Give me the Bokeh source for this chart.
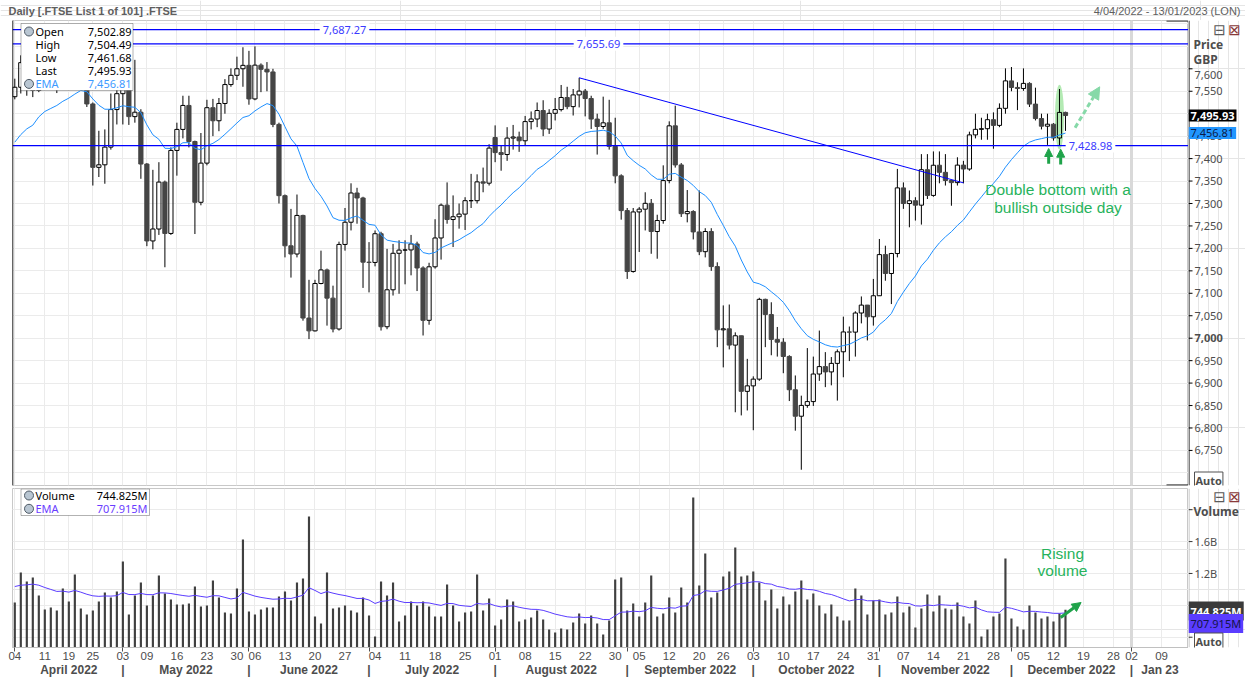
import pandas as pd
from bokeh.plotting import figure
from bokeh.layouts import column, row
from bokeh.models import (Range1d, FixedTicker, Span, Label, LinearAxis,
                          Arrow, NormalHead, ColumnDataSource, BoxAnnotation, Grid)
from bokeh.core.properties import value
from bokeh.embed import file_html
from bokeh.resources import INLINE

# ------------------------------------------------------------------ data
uk_holidays = ["2022-04-15", "2022-04-18", "2022-05-02", "2022-06-02", "2022-06-03",
               "2022-08-29", "2022-09-19", "2022-12-26", "2022-12-27"]
axis_start, axis_end = "2022-04-04", "2023-01-13"

opens = [7537.9, 7558.9, 7613.7, 7587.7, 7551.8, 7669.6, 7618.3, 7576.7, 7580.8, 7616.4,
         7601.3, 7629.2, 7627.9, 7521.7, 7380.5, 7386.2, 7425.6, 7509.2, 7544.6, 7561.3,
         7493.5, 7503.3, 7387.9, 7216.6, 7243.2, 7347.7, 7233.3, 7418.2, 7465.0, 7518.4,
         7438.1, 7302.7, 7389.9, 7513.4, 7484.3, 7522.8, 7564.9, 7585.5, 7600.1, 7607.7,
         7532.9, 7608.2, 7598.9, 7593.0, 7476.2, 7317.5, 7205.8, 7187.5, 7273.4, 7044.9,
         7016.3, 7121.8, 7152.1, 7089.2, 7020.5, 7208.8, 7258.3, 7323.4, 7312.3, 7169.3,
         7168.7, 7232.7, 7025.5, 7107.8, 7189.1, 7196.2, 7196.6, 7209.9, 7156.4, 7039.8,
         7159.0, 7223.2, 7296.3, 7264.3, 7270.5, 7276.4, 7306.3, 7306.3, 7348.2, 7345.3,
         7447.0, 7413.4, 7409.1, 7445.7, 7448.1, 7439.7, 7482.4, 7488.2, 7507.1, 7465.9,
         7500.9, 7509.2, 7536.1, 7515.8, 7541.9, 7550.4, 7533.8, 7488.1, 7471.5, 7479.7,
         7427.3, 7361.6, 7284.2, 7148.5, 7281.2, 7287.4, 7300.4, 7237.6, 7262.1, 7351.1,
         7473.0, 7385.9, 7277.3, 7282.1, 7236.7, 7192.7, 7237.6, 7159.5, 7018.6, 7020.9,
         6984.6, 7005.4, 6881.6, 6893.8, 6908.8, 7086.5, 7052.6, 6997.3, 6991.1, 6959.3,
         6885.2, 6826.2, 6850.3, 6858.8, 6920.2, 6936.7, 6924.9, 6943.9, 6969.7, 7013.9,
         7013.5, 7056.1, 7073.7, 7047.7, 7094.5, 7186.2, 7144.1, 7188.6, 7334.8, 7299.9,
         7306.1, 7296.3, 7375.3, 7318.0, 7385.2, 7369.4, 7351.2, 7346.5, 7385.5, 7376.8,
         7452.8, 7465.2, 7466.6, 7486.7, 7474.0, 7512.0, 7573.1, 7558.5, 7556.2, 7567.5,
         7521.4, 7489.2, 7472.2, 7476.6, 7445.9, 7502.89]

highs = [7578, 7630, 7618, 7600, 7676, 7672, 7625, 7600, 7630, 7640,
         7650, 7665, 7640, 7525, 7462, 7465, 7545, 7560, 7600, 7580,
         7620, 7510, 7390, 7375, 7392, 7351, 7425, 7480, 7540, 7540,
         7440, 7457, 7531, 7533, 7535, 7577, 7601, 7627, 7648, 7640,
         7650, 7612, 7615, 7600, 7480, 7320, 7288, 7320, 7275, 7130,
         7130, 7195, 7155, 7117, 7215, 7290, 7345, 7335, 7315, 7214,
         7240, 7237, 7199, 7210, 7218, 7218, 7230, 7215, 7160, 7168,
         7265, 7300, 7347, 7318, 7300, 7314, 7366, 7365, 7380, 7432,
         7474, 7430, 7470, 7475, 7460, 7495, 7505, 7525, 7530, 7510,
         7535, 7564, 7560, 7555, 7580, 7555, 7540, 7500, 7538, 7531,
         7491, 7365, 7290, 7290, 7292, 7325, 7310, 7275, 7385, 7483,
         7518, 7390, 7330, 7285, 7329, 7245, 7245, 7169, 7073, 7075,
         7013, 7006, 6954, 6915, 7090, 7088, 7080, 7025, 7000, 6962,
         6917, 6872, 6978, 6959, 7017, 6969, 6958, 6975, 7048, 7026,
         7060, 7093, 7074, 7132, 7221, 7206, 7190, 7377, 7347, 7329,
         7314, 7410, 7410, 7416, 7416, 7410, 7352, 7403, 7395, 7460,
         7500, 7491, 7500, 7503, 7523, 7601, 7604, 7570, 7601, 7570,
         7558, 7500, 7500, 7479, 7555, 7504.49]

lows = [7532, 7545, 7540, 7537, 7548, 7598, 7560, 7546, 7575, 7572,
        7595, 7600, 7515, 7340, 7359, 7344, 7420, 7476, 7476, 7475,
        7480, 7355, 7205, 7198, 7230, 7158, 7230, 7362, 7445, 7425,
        7232, 7296, 7385, 7450, 7461, 7500, 7560, 7575, 7560, 7520,
        7530, 7548, 7550, 7470, 7300, 7180, 7135, 7180, 7039, 6998,
        7015, 7120, 7028, 7013, 7017, 7195, 7240, 7255, 7112, 7102,
        7160, 7017, 7020, 7095, 7099, 7120, 7140, 7105, 7006, 7030,
        7155, 7175, 7255, 7203, 7244, 7241, 7290, 7300, 7325, 7340,
        7392, 7373, 7395, 7420, 7415, 7430, 7465, 7470, 7450, 7455,
        7485, 7505, 7510, 7496, 7514, 7494, 7466, 7409, 7466, 7420,
        7345, 7264, 7132, 7146, 7192, 7240, 7188, 7177, 7255, 7345,
        7380, 7270, 7258, 7220, 7185, 7180, 7150, 6980, 6935, 6975,
        6835, 6828, 6839, 6795, 6905, 6980, 6962, 6959, 6922, 6860,
        6794, 6707, 6845, 6849, 6905, 6891, 6895, 6861, 6913, 6949,
        6959, 7033, 6995, 7028, 7094, 7128, 7076, 7180, 7288, 7247,
        7262, 7253, 7310, 7315, 7345, 7340, 7295, 7340, 7345, 7373,
        7445, 7442, 7442, 7422, 7470, 7500, 7550, 7508, 7551, 7515,
        7485, 7465, 7430.5, 7440, 7428.98, 7461.68]

closes = [7558.9, 7613.7, 7587.7, 7551.8, 7669.6, 7618.3, 7576.7, 7580.8, 7616.4, 7601.3,
          7629.2, 7627.9, 7521.7, 7380.5, 7386.2, 7425.6, 7509.2, 7544.6, 7561.3, 7493.5,
          7503.3, 7387.9, 7216.6, 7243.2, 7347.7, 7233.3, 7418.2, 7465.0, 7518.4, 7438.1,
          7302.7, 7389.9, 7513.4, 7484.3, 7522.8, 7564.9, 7585.5, 7600.1, 7607.7, 7532.9,
          7608.2, 7598.9, 7593.0, 7476.2, 7317.5, 7205.8, 7187.5, 7273.4, 7044.9, 7016.3,
          7121.8, 7152.1, 7089.2, 7020.5, 7208.8, 7258.3, 7323.4, 7312.3, 7169.3, 7168.7,
          7232.7, 7025.5, 7107.8, 7189.1, 7196.2, 7196.6, 7209.9, 7156.4, 7039.8, 7159.0,
          7223.2, 7296.3, 7264.3, 7270.5, 7276.4, 7306.3, 7306.3, 7348.2, 7345.3, 7423.4,
          7413.4, 7409.1, 7445.7, 7448.1, 7439.7, 7482.4, 7488.2, 7507.1, 7465.9, 7500.9,
          7509.2, 7536.1, 7515.8, 7541.9, 7550.4, 7533.8, 7488.1, 7471.5, 7479.7, 7427.3,
          7361.6, 7284.2, 7148.5, 7281.2, 7287.4, 7300.4, 7237.6, 7262.1, 7351.1, 7473.0,
          7385.9, 7277.3, 7282.1, 7236.7, 7192.7, 7237.6, 7159.5, 7018.6, 7020.9, 6984.6,
          7005.4, 6881.6, 6893.8, 6908.8, 7086.5, 7052.6, 6997.3, 6991.1, 6959.3, 6885.2,
          6826.2, 6850.3, 6858.8, 6920.2, 6936.7, 6924.9, 6943.9, 6969.7, 7013.9, 7013.5,
          7056.1, 7073.7, 7047.7, 7094.5, 7186.2, 7144.1, 7188.6, 7334.8, 7299.9, 7306.1,
          7296.3, 7375.3, 7318.0, 7385.2, 7369.4, 7351.2, 7346.5, 7385.5, 7376.8, 7452.8,
          7465.2, 7466.6, 7486.7, 7474.0, 7512.0, 7573.1, 7558.5, 7556.2, 7567.5, 7521.4,
          7489.2, 7472.2, 7476.6, 7445.9, 7502.89, 7495.93]

# volume in millions of shares
volume_m = [836, 1212, 1099, 1150, 924, 748, 773, 736, 1012, 849,
            1187, 761, 686, 736, 849, 962, 899, 974, 1350, 686,
            924, 1087, 798, 924, 1175, 949, 874, 811, 811, 824,
            1037, 786, 798, 1112, 899, 711, 698, 1012, 1626, 723,
            686, 748, 773, 773, 911, 974, 861, 1087, 1137, 1915,
            661, 573, 1212, 761, 773, 798, 736, 711, 899, 673,
            410, 1099, 924, 1087, 598, 673, 849, 798, 849, 786,
            661, 661, 1062, 798, 598, 711, 723, 1187, 736, 886,
            548, 623, 874, 849, 598, 623, 648, 736, 623, 498,
            460, 510, 498, 585, 698, 573, 673, 573, 435, 610,
            1125, 1150, 736, 824, 661, 836, 1175, 661, 698, 899,
            711, 1024, 836, 2153, 1049, 1451, 899, 962, 1162, 1225,
            1526, 1162, 1175, 1225, 1087, 861, 999, 761, 911, 811,
            974, 1112, 874, 949, 798, 698, 811, 661, 610, 610,
            1012, 924, 686, 861, 874, 686, 711, 911, 711, 786,
            523, 761, 936, 723, 924, 761, 748, 836, 661, 573,
            861, 410, 498, 661, 698, 1388, 635, 535, 498, 798,
            711, 635, 661, 598, 698, 744.825]

ema_period = 20
ema_price_first = 7436.6       # EMA value read at the first visible bar
ema_volume_first = 1036.0
ema_price_last = 7456.81       # values shown in the legends
ema_volume_last = 707.915

levels = [7687.27, 7655.69, 7428.98]
trend_dates = ["2022-08-19", "2022-11-21"]
trend_values = [7580.0, 7346.0]
double_bottom_dates = ["2022-12-09", "2022-12-13"]

price_ticks = [6750, 6800, 6850, 6900, 6950, 7000, 7050, 7100, 7150, 7200,
               7250, 7300, 7350, 7400, 7450, 7500, 7550, 7600]
price_bold_tick = 7000
price_grid = [6700] + price_ticks + [7650, 7700]
vol_ticks = [400, 800, 1200, 1600, 2000]
vol_tick_labels = ["", "800M", "1.2B", "1.6B", ""]
month_names = ["April 2022", "May 2022", "June 2022", "July 2022", "August 2022",
               "September 2022", "October 2022", "November 2022", "December 2022", "Jan 23"]

# ------------------------------------------------------------------ derived
days = [d for d in pd.bdate_range(axis_start, axis_end)
        if d.strftime("%Y-%m-%d") not in uk_holidays]
pos = {d.strftime("%Y-%m-%d"): i for i, d in enumerate(days)}
n = len(closes)
idx = list(range(n))

week_ticks = [i for i, d in enumerate(days)
              if i == 0 or d.isocalendar()[1] != days[i - 1].isocalendar()[1]]
week_labels = {i: days[i].strftime("%d") for i in week_ticks}
month_starts = [i for i, d in enumerate(days) if i == 0 or d.month != days[i - 1].month]

alpha = 2.0 / (ema_period + 1)
ema_price = [ema_price_first]
for c in closes[1:]:
    ema_price.append(ema_price[-1] + alpha * (c - ema_price[-1]))
ema_vol = [ema_volume_first]
for vv in volume_m[1:]:
    ema_vol.append(ema_vol[-1] + alpha * (vv - ema_vol[-1]))

# ------------------------------------------------------------------ layout helpers
FONT = "Noto Sans"
ARIAL = "Liberation Sans"
GREEN = "#1fa34a"
TXT = "#4d4d4d"
X0, X1 = -0.383, 195.49
FL, FR = 12, 1188
P_TOP, P_BOT = 7707.6, 6671.9      # price at page y 20 and 485
V_TOP, V_BOT = 2266.0, 271.0       # volume at page y 488 and 647


def bx(px):
    return X0 + (px - FL) * (X1 - X0) / (FR - FL)


def py(y):
    return P_TOP - (y - 20) * (P_TOP - P_BOT) / (485 - 20)


def vy(y):
    return V_TOP - (y - 488) * (V_TOP - V_BOT) / (647 - 488)


def lab(fig, x, y, text, size="11px", color="#000000", align="left", bold=False,
        font=FONT, bg=None, border=None, pad=0, baseline="middle"):
    kw = dict(x=x, y=y, text=text, text_font=font, text_font_size=size,
              text_color=color, text_align=align, text_baseline=baseline,
              text_font_style="bold" if bold else "normal")
    if bg is not None:
        kw.update(background_fill_color=bg, background_fill_alpha=1.0)
    if border is not None:
        kw.update(border_line_color=border, border_line_alpha=1.0)
    if pad:
        kw.update(padding=pad)
    fig.add_layout(Label(**kw))


def plain(width, height, xr, yr):
    return figure(width=width, height=height, x_range=xr, y_range=yr, output_backend="svg",
                  toolbar_location=None, x_axis_location=None, y_axis_location=None,
                  min_border=0, outline_line_color=None,
                  background_fill_color="white", border_fill_color="white")


def window_buttons(fig, yc):
    lab(fig, 31, yc, "\u229f", color="#5a5a5a", size="15px", align="center", font="DejaVu Sans")
    lab(fig, 46, yc, "\u22a0", color="#8a3a3a", size="15px", align="center", font="DejaVu Sans")


xr = Range1d(X0, X1)

# ------------------------------------------------------------------ top strip
top = plain(1245, 20, Range1d(0, 1245), Range1d(0, 20))
lab(top, 8, 10, "Daily [.FTSE List 1 of 101] .FTSE", color="#5e5e5e", bold=True, font=ARIAL)
lab(top, 1240, 10, "4/04/2022 - 13/01/2023 (LON)", color="#5e5e5e", align="right", font=ARIAL)

# ------------------------------------------------------------------ price panel
p = figure(width=1188, height=467, x_range=xr, y_range=Range1d(P_BOT, P_TOP),
           output_backend="svg", toolbar_location=None,
           x_axis_location=None, y_axis_location=None,
           min_border_left=12, min_border_right=0, min_border_top=0, min_border_bottom=2,
           background_fill_color="white", border_fill_color="white",
           outline_line_color="#c8c8c8")
p.add_layout(Grid(dimension=1, ticker=FixedTicker(ticks=price_grid), grid_line_color="#ebebeb"))
p.add_layout(Grid(dimension=0, ticker=FixedTicker(ticks=week_ticks), grid_line_color="#ebebeb"))
p.add_layout(Span(location=pos["2023-01-02"], dimension="height", line_color="#d9d9d9",
                  line_width=3, level="underlay"))
p.add_layout(Span(location=X0, dimension="height", line_color="black", line_width=1.5))
p.segment(x0=[bx(1166)] * 2, y0=[py(20.5), py(484.5)], x1=[X1] * 2, y1=[py(20.5), py(484.5)],
          line_color="black", line_width=1)

hi = pos[double_bottom_dates[1]]
p.ellipse(x=[hi], y=[(highs[hi] + lows[hi]) / 2], width=1.5, height=(highs[hi] - lows[hi]) * 1.15,
          fill_color="#a6e6a6", fill_alpha=0.85, line_color=None)

body_top = [max(o, c) for o, c in zip(opens, closes)]
body_bot = [min(o, c) for o, c in zip(opens, closes)]
up = [c >= o for o, c in zip(opens, closes)]
wick = ColumnDataSource(dict(x=idx, h=highs, l=lows, t=body_top, b=body_bot))
p.segment(x0="x", y0="t", x1="x", y1="h", source=wick, line_color="black", line_width=1)
p.segment(x0="x", y0="l", x1="x", y1="b", source=wick, line_color="black", line_width=1)
up_src = ColumnDataSource(dict(x=[i for i in idx if up[i]], t=[body_top[i] for i in idx if up[i]],
                               b=[body_bot[i] for i in idx if up[i]]))
dn_src = ColumnDataSource(dict(x=[i for i in idx if not up[i]], t=[body_top[i] for i in idx if not up[i]],
                               b=[body_bot[i] for i in idx if not up[i]]))
p.vbar(x="x", top="t", bottom="b", width=0.7, source=dn_src, fill_color="#454545",
       line_color="#454545", line_width=1)
p.vbar(x="x", top="t", bottom="b", width=0.7, source=up_src, fill_color=None,
       line_color="black", line_width=1)

p.line(idx, ema_price, line_color="#1e8fff", line_width=1)
p.line([pos[d] for d in trend_dates], trend_values, line_color="#0000ff", line_width=1)
p.segment(x0=[X0] * len(levels), y0=levels, x1=[X1] * len(levels), y1=levels,
          line_color="#0000ff", line_width=1.2)
for lv, lx in zip(levels, [344, 598, 1090]):
    lab(p, bx(lx), lv, f"{lv:,.2f}", color="#3a3aff", align="center", bg="white", pad=3)

for d in double_bottom_dates:
    i = pos[d]
    p.add_layout(Arrow(end=NormalHead(size=8, fill_color=GREEN, line_color=GREEN),
                       x_start=i + 0.2, y_start=lows[i] - 42, x_end=i + 0.2, y_end=lows[i] - 8,
                       line_color=GREEN, line_width=3))
p.add_layout(Arrow(end=NormalHead(size=12, fill_color="#86d9a8", line_color="#86d9a8"),
                   x_start=n + 0.6, y_start=closes[-1] - 27, x_end=n + 4.7, y_end=closes[-1] + 64,
                   line_color="#86d9a8", line_width=3, line_dash="5 3"))
lab(p, bx(1057.5), py(189), "Double bottom with a", size="15.5px", color="#27b35c",
    align="center", font=ARIAL)
lab(p, bx(1057.5), py(207), "bullish outside day", size="15.5px", color="#27b35c",
    align="center", font=ARIAL)

p.add_layout(BoxAnnotation(left=bx(20.5), right=bx(132.5), top=py(23), bottom=py(90),
                           fill_color="white", fill_alpha=1.0, line_color="black", line_width=1))
leg_names = ["Open", "High", "Low", "Last", "EMA"]
leg_vals = [opens[-1], highs[-1], lows[-1], closes[-1], ema_price_last]
for k, (nm, vl) in enumerate(zip(leg_names, leg_vals)):
    yy = py(31 + k * 13.1)
    col = "#3d9aff" if nm == "EMA" else "#000000"
    lab(p, bx(35), yy, nm, color=col)
    lab(p, bx(131), yy, f"{vl:,.2f}", color=col, align="right")
p.scatter(x=[bx(28.5), bx(28.5)], y=[py(31), py(83.4)], size=9, fill_color="#b9c6d2",
          line_color="#4f5a66", level="overlay")

# price scale panel (right) - its frame is aligned with the price frame
ps = plain(57, 467, Range1d(0, 57), Range1d(P_BOT, P_TOP))
ps.segment(x0=[0.5], y0=[P_BOT], x1=[0.5], y1=[P_TOP], line_color="black", line_width=1)
ps.segment(x0=[0] * len(price_ticks), y0=price_ticks, x1=[4] * len(price_ticks), y1=price_ticks,
           line_color="black", line_width=1)
norm = [t for t in price_ticks if t != price_bold_tick]
label_y = [t if t != price_ticks[-1] else py(74) for t in norm]   # top label sits lower
ps.text(x=[6] * len(norm), y=label_y, text=[f"{t:,}" for t in norm], text_font=value(FONT),
        text_font_size="11px", text_color=TXT, text_baseline="middle")
ps.text(x=[6], y=[price_bold_tick], text=[f"{price_bold_tick:,}"], text_font=value(FONT),
        text_font_size="11px", text_font_style="bold", text_color=TXT, text_baseline="middle")
lab(ps, 5, py(44), "Price", color=TXT, bold=True, size="12px")
lab(ps, 5, py(59), "GBP", color=TXT, bold=True, size="12px")
window_buttons(ps, py(29))
lab(ps, 0, closes[-1], f"{closes[-1]:,.2f}", color="white", bold=True, bg="black", pad=2)
lab(ps, 0, ema_price_last, f"{ema_price_last:,.2f}", color="#0c1a48", bg="#2196ff", pad=2)
lab(ps, 6, py(480), "Auto", color=TXT, bold=True, border="#505050", bg="white", pad=1)

# ------------------------------------------------------------------ volume panel
v = figure(width=1188, height=192, x_range=xr, y_range=Range1d(V_BOT, V_TOP),
           output_backend="svg", toolbar_location=None,
           x_axis_location=None, y_axis_location=None,
           min_border_left=12, min_border_right=0, min_border_top=1, min_border_bottom=32,
           background_fill_color="white", border_fill_color="white",
           outline_line_color="#c8c8c8")
v.add_layout(Grid(dimension=1, ticker=FixedTicker(ticks=vol_ticks), grid_line_color="#ebebeb"))
v.add_layout(Grid(dimension=0, ticker=FixedTicker(ticks=week_ticks), grid_line_color="#ebebeb"))
v.add_layout(Span(location=pos["2023-01-02"], dimension="height", line_color="#d9d9d9",
                  line_width=3, level="underlay"))

day_axis = LinearAxis(ticker=FixedTicker(ticks=week_ticks, minor_ticks=month_starts),
                      major_label_overrides=week_labels)
day_axis.axis_line_color = "#c0c0c0"
day_axis.major_tick_line_color = None
day_axis.major_tick_out = 0
day_axis.major_tick_in = 0
day_axis.minor_tick_line_color = "#505050"
day_axis.minor_tick_out = 4
day_axis.minor_tick_in = 0
day_axis.major_label_standoff = 0
day_axis.major_label_text_font = ARIAL
day_axis.major_label_text_font_size = "11.5px"
day_axis.major_label_text_color = TXT
v.add_layout(day_axis, "below")

bounds = month_starts + [X1]
month_centers = []
for a, b in zip(bounds[:-1], bounds[1:]):
    c = (a + b) / 2
    month_centers.append(int(c) if float(c).is_integer() else round(c, 3))
month_labels = dict(zip(month_centers, month_names))
for s in month_starts[1:]:
    month_labels[s] = "|"
month_axis = LinearAxis(ticker=FixedTicker(ticks=sorted(month_centers + month_starts[1:])),
                        major_label_overrides=month_labels)
month_axis.axis_line_color = None
month_axis.major_tick_line_color = None
month_axis.major_tick_out = 0
month_axis.major_tick_in = 0
month_axis.minor_tick_line_color = None
month_axis.major_label_standoff = 0
month_axis.major_label_text_font = ARIAL
month_axis.major_label_text_font_size = "12px"
month_axis.major_label_text_font_style = "bold"
month_axis.major_label_text_color = TXT
v.add_layout(month_axis, "below")

v.vbar(x=idx, top=volume_m, bottom=0, width=0.36, fill_color="#404040", line_color=None)
v.line(idx, ema_vol, line_color="#5a3cff", line_width=1)

v.add_layout(Arrow(end=NormalHead(size=9, fill_color=GREEN, line_color=GREEN),
                   x_start=n - 1.8, y_start=vy(617), x_end=n + 1.6, y_end=vy(602),
                   line_color=GREEN, line_width=3))
lab(v, bx(1062), vy(553), "Rising", size="15.5px", color="#27b35c", align="center", font=ARIAL)
lab(v, bx(1062), vy(570), "volume", size="15.5px", color="#27b35c", align="center", font=ARIAL)

v.add_layout(BoxAnnotation(left=bx(20.5), right=bx(149), top=vy(488.5), bottom=vy(515),
                           fill_color="white", fill_alpha=1.0, line_color="black", line_width=1))
lab(v, bx(35), vy(495), "Volume")
lab(v, bx(147), vy(495), f"{volume_m[-1]:.3f}M", align="right")
lab(v, bx(35), vy(508.3), "EMA", color="#6a3cff")
lab(v, bx(147), vy(508.3), f"{ema_volume_last:.3f}M", color="#6a3cff", align="right")
v.scatter(x=[bx(28.5), bx(28.5)], y=[vy(495), vy(508.3)], size=9, fill_color="#b9c6d2",
          line_color="#4f5a66", level="overlay")

# volume scale panel (right) - its frame is aligned with the volume frame
vs = plain(57, 192, Range1d(0, 57), Range1d(V_BOT, V_TOP))
vs.segment(x0=[0.5], y0=[V_BOT], x1=[0.5], y1=[V_TOP], line_color="#b8b8b8", line_width=1)
vs.segment(x0=[0] * len(vol_ticks), y0=vol_ticks, x1=[4] * len(vol_ticks), y1=vol_ticks,
           line_color="#333333", line_width=1)
vs.text(x=[6] * len(vol_ticks), y=vol_ticks, text=vol_tick_labels, text_font=value(FONT),
        text_font_size="11px", text_color=TXT, text_baseline="middle")
window_buttons(vs, vy(496))
lab(vs, 5, vy(511), "Volume", color=TXT, bold=True, size="12px")
lab(vs, 0, vy(610.5), f"{volume_m[-1]:.3f}M", color="white", bold=True, bg="#3a3a3a", pad=2)
lab(vs, 0, vy(623), f"{ema_volume_last:.3f}M", color="#14144a", bg="#5a3cff", pad=2)
lab(vs, 6, vy(641), "Auto", color=TXT, bold=True, border="#505050", bg="white", pad=1)

layout = column(top, row(p, ps, spacing=0), row(v, vs, spacing=0), spacing=0)
open("out.html", "w").write(file_html(layout, INLINE))
